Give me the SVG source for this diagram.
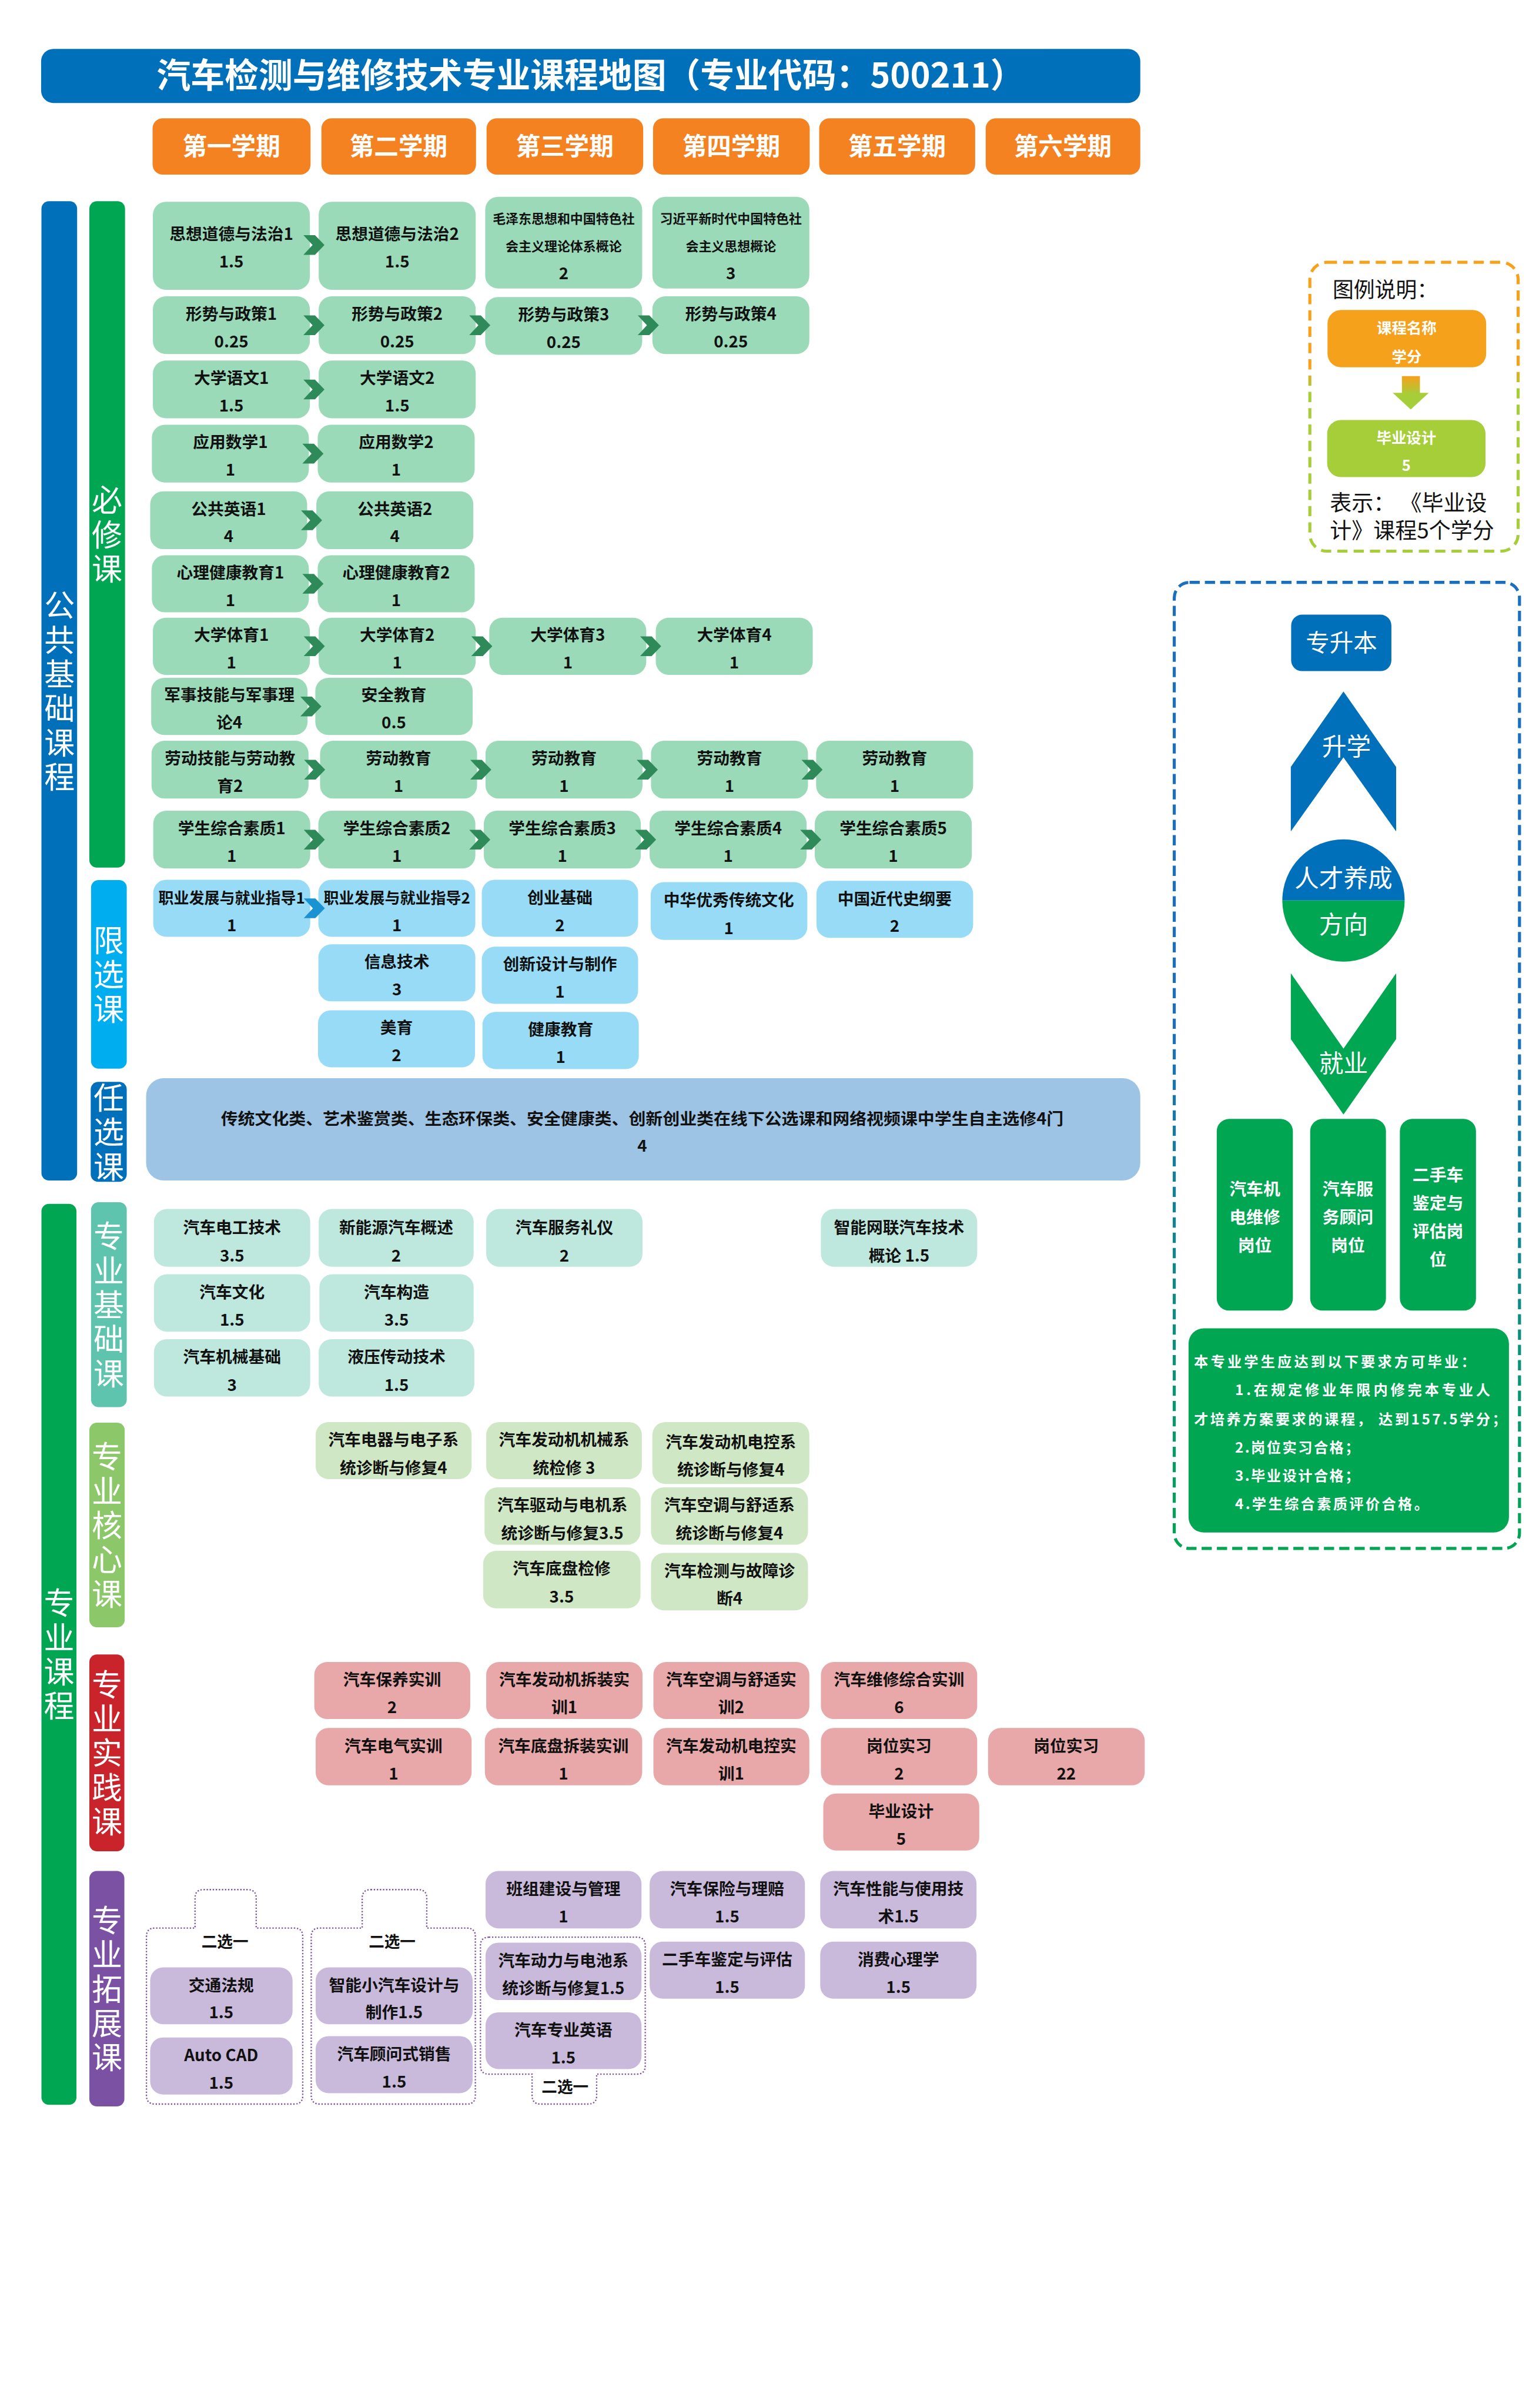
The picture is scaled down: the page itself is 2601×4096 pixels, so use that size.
<svg xmlns="http://www.w3.org/2000/svg" xmlns:xlink="http://www.w3.org/1999/xlink" width="2601" height="4096" viewBox="0 0 2601 4096">
<style>
.t{font-family:"Noto Sans CJK SC","Noto Sans",sans-serif;font-weight:700;font-size:48px;text-anchor:middle;fill:#111}
.s{font-size:38px}
.v{font-family:"Noto Sans CJK SC","Noto Sans",sans-serif;font-weight:400;font-size:90px;fill:#fff;text-anchor:middle;writing-mode:vertical-rl;letter-spacing:11px}
.w{fill:#fff}
.r{font-family:"Noto Sans CJK SC","Noto Sans",sans-serif;font-weight:400;font-size:72px;fill:#fff;text-anchor:middle}
.q{font-family:"Noto Sans CJK SC","Noto Sans",sans-serif;font-weight:700;font-size:42px;fill:#fff}
.bx{fill:#9ADAB9}.cy{fill:#98DBF6}.pb{fill:#BEE7DE}.pc{fill:#CFE7C4}.pp{fill:#E8A7A8}.pe{fill:#C9B9DA}
.ch{fill:#2E8A58}.chb{fill:#1B93D2}
.dot{fill:none;stroke:#7B52A3;stroke-width:4;stroke-dasharray:4 5}
</style>
<defs>
<path id="chev" d="M-31,-29 H3 L31,0 L3,29 H-31 L-4,0 Z"/>
<linearGradient id="gLeg" x1="0" y1="0" x2="0" y2="1">
<stop offset="0" stop-color="#F7A11B"/><stop offset="0.36" stop-color="#F7A11B"/><stop offset="0.44" stop-color="#A6CE39"/><stop offset="1" stop-color="#A6CE39"/>
</linearGradient>
<linearGradient id="gArr" x1="0" y1="0" x2="0" y2="1">
<stop offset="0" stop-color="#F7A11B"/><stop offset="0.55" stop-color="#A6CE39"/><stop offset="1" stop-color="#A6CE39"/>
</linearGradient>
<linearGradient id="gPan" x1="0" y1="0" x2="0" y2="1">
<stop offset="0" stop-color="#1A6FBF"/><stop offset="0.45" stop-color="#1A6FBF"/><stop offset="1" stop-color="#00A651"/>
</linearGradient>
</defs>
<rect x="0" y="0" width="2601" height="4096" fill="#fff"/>
<g transform="scale(0.578)">

<g id="title">
<rect x="121" y="144" width="3235" height="159" rx="36" fill="#0070BA"/>
<text class="t w" x="1738" y="258" style="font-size:100px">汽车检测与维修技术专业课程地图（专业代码：500211）</text>
</g>

<g id="semesters">
<g id="sem1"><rect x="449" y="348" width="465" height="166" rx="30" fill="#F58220"/><text class="t w" x="681" y="456" style="font-size:72px">第一学期</text></g>
<g id="sem2"><rect x="946" y="348" width="455" height="166" rx="30" fill="#F58220"/><text class="t w" x="1173" y="456" style="font-size:72px">第二学期</text></g>
<g id="sem3"><rect x="1432" y="348" width="461" height="166" rx="30" fill="#F58220"/><text class="t w" x="1662" y="456" style="font-size:72px">第三学期</text></g>
<g id="sem4"><rect x="1922" y="348" width="461" height="166" rx="30" fill="#F58220"/><text class="t w" x="2152" y="456" style="font-size:72px">第四学期</text></g>
<g id="sem5"><rect x="2411" y="348" width="459" height="166" rx="30" fill="#F58220"/><text class="t w" x="2640" y="456" style="font-size:72px">第五学期</text></g>
<g id="sem6"><rect x="2901" y="348" width="455" height="166" rx="30" fill="#F58220"/><text class="t w" x="3128" y="456" style="font-size:72px">第六学期</text></g>
</g>

<g id="cat-public">
<rect x="122" y="592" width="105" height="2882" rx="22" fill="#0070BA"/>
<text class="v" x="175" y="2039">公共基础课程</text>
</g>
<g id="cat-required">
<rect x="263" y="592" width="105" height="1961" rx="22" fill="#00A651"/>
<text class="v" x="315" y="1578">必修课</text>
</g>
<g id="cat-limited">
<rect x="268" y="2590" width="105" height="555" rx="22" fill="#00AEEF"/>
<text class="v" x="320" y="2873">限选课</text>
</g>
<g id="cat-free">
<rect x="267" y="3184" width="106" height="294" rx="22" fill="#0070BA"/>
<text class="v" x="320" y="3337">任选课</text>
</g>

<g id="r1c1"><rect class="bx" x="450" y="594" width="462" height="259" rx="38"/><text class="t" x="681" y="706">思想道德与法治1</text><text class="t" x="681" y="787">1.5</text></g>
<g id="r1c2"><rect class="bx" x="938" y="594" width="462" height="259" rx="38"/><text class="t" x="1169" y="706">思想道德与法治2</text><text class="t" x="1169" y="787">1.5</text></g>
<g id="r1c3"><rect class="bx" x="1428" y="579" width="462" height="270" rx="38"/><text class="t s" x="1659" y="657">毛泽东思想和中国特色社</text><text class="t s" x="1659" y="738">会主义理论体系概论</text><text class="t" x="1659" y="821">2</text></g>
<g id="r1c4"><rect class="bx" x="1920" y="579" width="462" height="270" rx="38"/><text class="t s" x="2151" y="657">习近平新时代中国特色社</text><text class="t s" x="2151" y="738">会主义思想概论</text><text class="t" x="2151" y="821">3</text></g>

<g id="r2c1"><rect class="bx" x="450" y="872" width="462" height="170" rx="38"/><text class="t" x="681" y="941">形势与政策1</text><text class="t" x="681" y="1022">0.25</text></g>
<g id="r2c2"><rect class="bx" x="938" y="872" width="462" height="170" rx="38"/><text class="t" x="1169" y="941">形势与政策2</text><text class="t" x="1169" y="1022">0.25</text></g>
<g id="r2c3"><rect class="bx" x="1428" y="874" width="462" height="170" rx="38"/><text class="t" x="1659" y="943">形势与政策3</text><text class="t" x="1659" y="1024">0.25</text></g>
<g id="r2c4"><rect class="bx" x="1920" y="872" width="462" height="170" rx="38"/><text class="t" x="2151" y="941">形势与政策4</text><text class="t" x="2151" y="1022">0.25</text></g>

<g id="r3c1"><rect class="bx" x="450" y="1061" width="462" height="170" rx="38"/><text class="t" x="681" y="1130">大学语文1</text><text class="t" x="681" y="1211">1.5</text></g>
<g id="r3c2"><rect class="bx" x="938" y="1061" width="462" height="170" rx="38"/><text class="t" x="1169" y="1130">大学语文2</text><text class="t" x="1169" y="1211">1.5</text></g>

<g id="r4c1"><rect class="bx" x="447" y="1250" width="462" height="170" rx="38"/><text class="t" x="678" y="1319">应用数学1</text><text class="t" x="678" y="1400">1</text></g>
<g id="r4c2"><rect class="bx" x="935" y="1250" width="462" height="170" rx="38"/><text class="t" x="1166" y="1319">应用数学2</text><text class="t" x="1166" y="1400">1</text></g>

<g id="r5c1"><rect class="bx" x="442" y="1446" width="462" height="170" rx="38"/><text class="t" x="673" y="1515">公共英语1</text><text class="t" x="673" y="1596">4</text></g>
<g id="r5c2"><rect class="bx" x="931" y="1446" width="462" height="170" rx="38"/><text class="t" x="1162" y="1515">公共英语2</text><text class="t" x="1162" y="1596">4</text></g>

<g id="r6c1"><rect class="bx" x="447" y="1634" width="462" height="168" rx="38"/><text class="t" x="678" y="1702">心理健康教育1</text><text class="t" x="678" y="1783">1</text></g>
<g id="r6c2"><rect class="bx" x="935" y="1634" width="462" height="168" rx="38"/><text class="t" x="1166" y="1702">心理健康教育2</text><text class="t" x="1166" y="1783">1</text></g>

<g id="r7c1"><rect class="bx" x="450" y="1818" width="462" height="168" rx="38"/><text class="t" x="681" y="1886">大学体育1</text><text class="t" x="681" y="1967">1</text></g>
<g id="r7c2"><rect class="bx" x="938" y="1818" width="462" height="168" rx="38"/><text class="t" x="1169" y="1886">大学体育2</text><text class="t" x="1169" y="1967">1</text></g>
<g id="r7c3"><rect class="bx" x="1440" y="1818" width="462" height="168" rx="38"/><text class="t" x="1671" y="1886">大学体育3</text><text class="t" x="1671" y="1967">1</text></g>
<g id="r7c4"><rect class="bx" x="1930" y="1818" width="462" height="168" rx="38"/><text class="t" x="2161" y="1886">大学体育4</text><text class="t" x="2161" y="1967">1</text></g>

<g id="r8c1"><rect class="bx" x="445" y="1995" width="460" height="168" rx="38"/><text class="t" x="675" y="2063">军事技能与军事理</text><text class="t" x="675" y="2144">论4</text></g>
<g id="r8c2"><rect class="bx" x="928" y="1995" width="463" height="168" rx="38"/><text class="t" x="1159" y="2063">安全教育</text><text class="t" x="1159" y="2144">0.5</text></g>

<g id="r9c1"><rect class="bx" x="446" y="2180" width="462" height="170" rx="38"/><text class="t" x="677" y="2249">劳动技能与劳动教</text><text class="t" x="677" y="2330">育2</text></g>
<g id="r9c2"><rect class="bx" x="942" y="2180" width="462" height="170" rx="38"/><text class="t" x="1173" y="2249">劳动教育</text><text class="t" x="1173" y="2330">1</text></g>
<g id="r9c3"><rect class="bx" x="1429" y="2180" width="462" height="170" rx="38"/><text class="t" x="1660" y="2249">劳动教育</text><text class="t" x="1660" y="2330">1</text></g>
<g id="r9c4"><rect class="bx" x="1916" y="2180" width="462" height="170" rx="38"/><text class="t" x="2147" y="2249">劳动教育</text><text class="t" x="2147" y="2330">1</text></g>
<g id="r9c5"><rect class="bx" x="2402" y="2180" width="462" height="170" rx="38"/><text class="t" x="2633" y="2249">劳动教育</text><text class="t" x="2633" y="2330">1</text></g>

<g id="r10c1"><rect class="bx" x="451" y="2386" width="462" height="170" rx="38"/><text class="t" x="682" y="2455">学生综合素质1</text><text class="t" x="682" y="2536">1</text></g>
<g id="r10c2"><rect class="bx" x="937" y="2386" width="462" height="170" rx="38"/><text class="t" x="1168" y="2455">学生综合素质2</text><text class="t" x="1168" y="2536">1</text></g>
<g id="r10c3"><rect class="bx" x="1424" y="2386" width="462" height="170" rx="38"/><text class="t" x="1655" y="2455">学生综合素质3</text><text class="t" x="1655" y="2536">1</text></g>
<g id="r10c4"><rect class="bx" x="1912" y="2386" width="462" height="170" rx="38"/><text class="t" x="2143" y="2455">学生综合素质4</text><text class="t" x="2143" y="2536">1</text></g>
<g id="r10c5"><rect class="bx" x="2398" y="2386" width="462" height="170" rx="38"/><text class="t" x="2629" y="2455">学生综合素质5</text><text class="t" x="2629" y="2536">1</text></g>

<g id="r11c1"><rect class="cy" x="451" y="2589" width="462" height="168" rx="38"/><text class="t" x="682" y="2659" style="font-size:45px">职业发展与就业指导1</text><text class="t" x="682" y="2740">1</text></g>
<g id="r11c2"><rect class="cy" x="937" y="2589" width="462" height="168" rx="38"/><text class="t" x="1168" y="2659" style="font-size:45px">职业发展与就业指导2</text><text class="t" x="1168" y="2740">1</text></g>
<g id="r11c3"><rect class="cy" x="1418" y="2589" width="460" height="168" rx="38"/><text class="t" x="1648" y="2659">创业基础</text><text class="t" x="1648" y="2740">2</text></g>
<g id="r11c4"><rect class="cy" x="1915" y="2596" width="461" height="170" rx="38"/><text class="t" x="2145" y="2666">中华优秀传统文化</text><text class="t" x="2145" y="2749">1</text></g>
<g id="r11c5"><rect class="cy" x="2403" y="2592" width="461" height="168" rx="38"/><text class="t" x="2633" y="2662">中国近代史纲要</text><text class="t" x="2633" y="2743">2</text></g>
<g id="r12c2"><rect class="cy" x="937" y="2779" width="462" height="168" rx="38"/><text class="t" x="1168" y="2848">信息技术</text><text class="t" x="1168" y="2929">3</text></g>
<g id="r12c3"><rect class="cy" x="1418" y="2786" width="460" height="168" rx="38"/><text class="t" x="1648" y="2855">创新设计与制作</text><text class="t" x="1648" y="2936">1</text></g>
<g id="r13c2"><rect class="cy" x="936" y="2973" width="462" height="168" rx="38"/><text class="t" x="1167" y="3042">美育</text><text class="t" x="1167" y="3123">2</text></g>
<g id="r13c3"><rect class="cy" x="1420" y="2978" width="460" height="168" rx="38"/><text class="t" x="1650" y="3047">健康教育</text><text class="t" x="1650" y="3128">1</text></g>

<g id="free-elective"><rect x="430" y="3173" width="2926" height="301" rx="52" fill="#9DC4E4"/><text class="t" x="1890" y="3309" textLength="2480" lengthAdjust="spacingAndGlyphs">传统文化类、艺术鉴赏类、生态环保类、安全健康类、创新创业类在线下公选课和网络视频课中学生自主选修4门</text><text class="t" x="1890" y="3390">4</text></g>

<g id="cat-major">
<rect x="122" y="3543" width="103" height="2651" rx="22" fill="#00A651"/>
<text class="v" x="174" y="4874">专业课程</text>
</g>
<g id="cat-basic">
<rect x="268" y="3538" width="105" height="603" rx="22" fill="#5EC4AE"/>
<text class="v" x="320" y="3845">专业基础课</text>
</g>
<g id="cat-core">
<rect x="263" y="4187" width="104" height="602" rx="22" fill="#8CC76A"/>
<text class="v" x="315" y="4494">专业核心课</text>
</g>
<g id="cat-practice">
<rect x="263" y="4869" width="103" height="579" rx="22" fill="#C9232B"/>
<text class="v" x="315" y="5164">专业实践课</text>
</g>
<g id="cat-ext">
<rect x="263" y="5506" width="103" height="693" rx="22" fill="#7B52A3"/>
<text class="v" x="315" y="5858">专业拓展课</text>
</g>

<g id="b1"><rect class="pb" x="453" y="3558" width="460" height="170" rx="38"/><text class="t" x="683" y="3629">汽车电工技术</text><text class="t" x="683" y="3712">3.5</text></g>
<g id="b2"><rect class="pb" x="938" y="3558" width="456" height="170" rx="38"/><text class="t" x="1166" y="3629">新能源汽车概述</text><text class="t" x="1166" y="3712">2</text></g>
<g id="b3"><rect class="pb" x="1431" y="3558" width="460" height="170" rx="38"/><text class="t" x="1661" y="3629">汽车服务礼仪</text><text class="t" x="1661" y="3712">2</text></g>
<g id="b4"><rect class="pb" x="2416" y="3558" width="460" height="170" rx="38"/><text class="t" x="2646" y="3629">智能网联汽车技术</text><text class="t" x="2646" y="3712">概论 1.5</text></g>
<g id="b5"><rect class="pb" x="453" y="3750" width="460" height="169" rx="38"/><text class="t" x="683" y="3820">汽车文化</text><text class="t" x="683" y="3902">1.5</text></g>
<g id="b6"><rect class="pb" x="940" y="3750" width="454" height="169" rx="38"/><text class="t" x="1167" y="3820">汽车构造</text><text class="t" x="1167" y="3902">3.5</text></g>
<g id="b7"><rect class="pb" x="453" y="3941" width="460" height="169" rx="38"/><text class="t" x="683" y="4011">汽车机械基础</text><text class="t" x="683" y="4093">3</text></g>
<g id="b8"><rect class="pb" x="938" y="3941" width="458" height="169" rx="38"/><text class="t" x="1167" y="4011">液压传动技术</text><text class="t" x="1167" y="4093">1.5</text></g>

<g id="c1"><rect class="pc" x="929" y="4185" width="459" height="168" rx="38"/><text class="t" x="1158" y="4255">汽车电器与电子系</text><text class="t" x="1158" y="4338">统诊断与修复4</text></g>
<g id="c2"><rect class="pc" x="1431" y="4185" width="458" height="168" rx="38"/><text class="t" x="1660" y="4255">汽车发动机机械系</text><text class="t" x="1660" y="4338">统检修 3</text></g>
<g id="c3"><rect class="pc" x="1920" y="4185" width="462" height="182" rx="38"/><text class="t" x="2151" y="4262">汽车发动机电控系</text><text class="t" x="2151" y="4342">统诊断与修复4</text></g>
<g id="c4"><rect class="pc" x="1426" y="4377" width="459" height="169" rx="38"/><text class="t" x="1655" y="4447">汽车驱动与电机系</text><text class="t" x="1655" y="4529">统诊断与修复3.5</text></g>
<g id="c5"><rect class="pc" x="1916" y="4377" width="462" height="169" rx="38"/><text class="t" x="2147" y="4447">汽车空调与舒适系</text><text class="t" x="2147" y="4529">统诊断与修复4</text></g>
<g id="c6"><rect class="pc" x="1422" y="4564" width="463" height="169" rx="38"/><text class="t" x="1653" y="4634">汽车底盘检修</text><text class="t" x="1653" y="4716">3.5</text></g>
<g id="c7"><rect class="pc" x="1916" y="4570" width="462" height="169" rx="38"/><text class="t" x="2147" y="4640">汽车检测与故障诊</text><text class="t" x="2147" y="4722">断4</text></g>

<g id="p1"><rect class="pp" x="925" y="4891" width="459" height="168" rx="38"/><text class="t" x="1154" y="4961">汽车保养实训</text><text class="t" x="1154" y="5042">2</text></g>
<g id="p2"><rect class="pp" x="1431" y="4891" width="460" height="168" rx="38"/><text class="t" x="1661" y="4961">汽车发动机拆装实</text><text class="t" x="1661" y="5042">训1</text></g>
<g id="p3"><rect class="pp" x="1923" y="4891" width="459" height="168" rx="38"/><text class="t" x="2152" y="4961">汽车空调与舒适实</text><text class="t" x="2152" y="5042">训2</text></g>
<g id="p4"><rect class="pp" x="2416" y="4891" width="460" height="168" rx="38"/><text class="t" x="2646" y="4961">汽车维修综合实训</text><text class="t" x="2646" y="5042">6</text></g>
<g id="p5"><rect class="pp" x="929" y="5085" width="459" height="169" rx="38"/><text class="t" x="1158" y="5155">汽车电气实训</text><text class="t" x="1158" y="5237">1</text></g>
<g id="p6"><rect class="pp" x="1427" y="5085" width="463" height="169" rx="38"/><text class="t" x="1658" y="5155">汽车底盘拆装实训</text><text class="t" x="1658" y="5237">1</text></g>
<g id="p7"><rect class="pp" x="1923" y="5085" width="459" height="169" rx="38"/><text class="t" x="2152" y="5155">汽车发动机电控实</text><text class="t" x="2152" y="5237">训1</text></g>
<g id="p8"><rect class="pp" x="2416" y="5085" width="460" height="169" rx="38"/><text class="t" x="2646" y="5155">岗位实习</text><text class="t" x="2646" y="5237">2</text></g>
<g id="p9"><rect class="pp" x="2908" y="5085" width="461" height="169" rx="38"/><text class="t" x="3138" y="5155">岗位实习</text><text class="t" x="3138" y="5237">22</text></g>
<g id="p10"><rect class="pp" x="2423" y="5278" width="459" height="168" rx="38"/><text class="t" x="2652" y="5348">毕业设计</text><text class="t" x="2652" y="5429">5</text></g>

<g id="grp1"><path class="dot" d="M599,5561 H729 Q754,5561 754,5586 V5674 H866 Q891,5674 891,5699 V6167 Q891,6192 866,6192 H456 Q431,6192 431,6167 V5699 Q431,5674 456,5674 H574 V5586 Q574,5561 599,5561 Z"/><text class="t" x="662" y="5730" style="font-size:46px">二选一</text></g>
<g id="grp2"><path class="dot" d="M1091,5561 H1231 Q1256,5561 1256,5586 V5674 H1374 Q1399,5674 1399,5699 V6167 Q1399,6192 1374,6192 H941 Q916,6192 916,6167 V5699 Q916,5674 941,5674 H1066 V5586 Q1066,5561 1091,5561 Z"/><text class="t" x="1154" y="5730" style="font-size:46px">二选一</text></g>
<g id="grp3"><path class="dot" d="M1439,5701 H1874 Q1899,5701 1899,5726 V6079 Q1899,6104 1874,6104 H1756 V6167 Q1756,6192 1731,6192 H1591 Q1566,6192 1566,6167 V6104 H1439 Q1414,6104 1414,6079 V5726 Q1414,5701 1439,5701 Z"/><text class="t" x="1663" y="6157" style="font-size:46px">二选一</text></g>

<g id="e1"><rect class="pe" x="1429" y="5506" width="459" height="169" rx="38"/><text class="t" x="1658" y="5576">班组建设与管理</text><text class="t" x="1658" y="5658">1</text></g>
<g id="e2"><rect class="pe" x="1912" y="5506" width="457" height="169" rx="38"/><text class="t" x="2140" y="5576">汽车保险与理赔</text><text class="t" x="2140" y="5658">1.5</text></g>
<g id="e3"><rect class="pe" x="2414" y="5506" width="460" height="169" rx="38"/><text class="t" x="2644" y="5576">汽车性能与使用技</text><text class="t" x="2644" y="5658">术1.5</text></g>
<g id="e4"><rect class="pe" x="1429" y="5717" width="459" height="169" rx="38"/><text class="t" x="1658" y="5787">汽车动力与电池系</text><text class="t" x="1658" y="5869">统诊断与修复1.5</text></g>
<g id="e5"><rect class="pe" x="1912" y="5714" width="457" height="168" rx="38"/><text class="t" x="2140" y="5784">二手车鉴定与评估</text><text class="t" x="2140" y="5865">1.5</text></g>
<g id="e6"><rect class="pe" x="2414" y="5714" width="460" height="168" rx="38"/><text class="t" x="2644" y="5784">消费心理学</text><text class="t" x="2644" y="5865">1.5</text></g>
<g id="e7"><rect class="pe" x="1429" y="5922" width="459" height="167" rx="38"/><text class="t" x="1658" y="5991">汽车专业英语</text><text class="t" x="1658" y="6072">1.5</text></g>
<g id="e8"><rect class="pe" x="442" y="5790" width="419" height="167" rx="38"/><text class="t" x="651" y="5859">交通法规</text><text class="t" x="651" y="5940">1.5</text></g>
<g id="e9"><rect class="pe" x="442" y="5996" width="419" height="168" rx="38"/><text class="t" x="651" y="6066">Auto CAD</text><text class="t" x="651" y="6147">1.5</text></g>
<g id="e10"><rect class="pe" x="929" y="5790" width="462" height="167" rx="38"/><text class="t" x="1160" y="5859">智能小汽车设计与</text><text class="t" x="1160" y="5940">制作1.5</text></g>
<g id="e11"><rect class="pe" x="929" y="5992" width="462" height="168" rx="38"/><text class="t" x="1160" y="6062">汽车顾问式销售</text><text class="t" x="1160" y="6143">1.5</text></g>

<g id="connectors">
<use xlink:href="#chev" class="ch" x="924" y="721"/>
<use xlink:href="#chev" class="ch" x="924" y="957"/>
<use xlink:href="#chev" class="ch" x="1412" y="957"/>
<use xlink:href="#chev" class="ch" x="1908" y="957"/>
<use xlink:href="#chev" class="ch" x="924" y="1146"/>
<use xlink:href="#chev" class="ch" x="921" y="1335"/>
<use xlink:href="#chev" class="ch" x="917" y="1531"/>
<use xlink:href="#chev" class="ch" x="921" y="1718"/>
<use xlink:href="#chev" class="ch" x="925" y="1902"/>
<use xlink:href="#chev" class="ch" x="1418" y="1902"/>
<use xlink:href="#chev" class="ch" x="1915" y="1902"/>
<use xlink:href="#chev" class="ch" x="915" y="2079"/>
<use xlink:href="#chev" class="ch" x="926" y="2265"/>
<use xlink:href="#chev" class="ch" x="1415" y="2265"/>
<use xlink:href="#chev" class="ch" x="1905" y="2265"/>
<use xlink:href="#chev" class="ch" x="2390" y="2265"/>
<use xlink:href="#chev" class="ch" x="925" y="2471"/>
<use xlink:href="#chev" class="ch" x="1412" y="2471"/>
<use xlink:href="#chev" class="ch" x="1900" y="2471"/>
<use xlink:href="#chev" class="ch" x="2386" y="2471"/>
<use xlink:href="#chev" class="chb" x="925" y="2673"/>
</g>

<g id="legend">
<rect x="3855" y="772" width="613" height="850" rx="50" fill="none" stroke="url(#gLeg)" stroke-width="9" stroke-dasharray="30 18"/>
<text x="3922" y="875" style="font-family:'Noto Sans CJK SC',sans-serif;font-size:62px;fill:#111">图例说明：</text>
<g id="leg-course"><rect x="3907" y="912" width="467" height="169" rx="40" fill="#F6A11C"/><text class="t w" x="4140" y="981" style="font-size:44px">课程名称</text><text class="t w" x="4140" y="1065" style="font-size:44px">学分</text></g>
<path d="M4126,1107 H4179 V1156 H4205 L4152,1205 L4099,1156 H4126 Z" fill="url(#gArr)"/>
<g id="leg-design"><rect x="3906" y="1236" width="466" height="168" rx="40" fill="#A6CE39"/><text class="t w" x="4139" y="1304" style="font-size:44px">毕业设计</text><text class="t w" x="4139" y="1386" style="font-size:44px">5</text></g>
<text style="font-family:'Noto Sans CJK SC',sans-serif;font-size:64px;fill:#111"><tspan x="3914" y="1503">表示： 《毕业设</tspan><tspan x="3914" y="1584">计》课程5个学分</tspan></text>
</g>

<g id="panel">
<rect x="3456" y="1714" width="1016" height="2843" rx="45" fill="none" stroke="url(#gPan)" stroke-width="9" stroke-dasharray="30 15"/>
<g id="upgrade"><rect x="3800" y="1809" width="295" height="166" rx="32" fill="#0070BA"/><text class="r" x="3948" y="1917" style="font-size:70px">专升本</text></g>
<g id="up-arrow"><path d="M3954,2035 L4109,2257 V2447 L3954,2229 L3799,2447 V2257 Z" fill="#0070BA"/><text class="r" x="3963" y="2224">升学</text></g>
<g id="direction"><path d="M3774,2650 A180,180 0 0 1 4134,2650 Z" fill="#0070BA"/><path d="M3774,2650 A180,180 0 0 0 4134,2650 Z" fill="#00A651"/><text class="r" x="3954" y="2610">人才养成</text><text class="r" x="3954" y="2748">方向</text></g>
<g id="down-arrow"><path d="M3799,2864 L3954,3086 L4109,2864 V3058 L3954,3280 L3799,3058 Z" fill="#00A651"/><text class="r" x="3954" y="3156">就业</text></g>
<g id="job1"><rect x="3581" y="3293" width="224" height="564" rx="36" fill="#00A651"/><text class="t w" style="font-size:50px"><tspan x="3693" y="3518">汽车机</tspan><tspan x="3693" y="3601">电维修</tspan><tspan x="3693" y="3684">岗位</tspan></text></g>
<g id="job2"><rect x="3856" y="3293" width="223" height="564" rx="36" fill="#00A651"/><text class="t w" style="font-size:50px"><tspan x="3967" y="3518">汽车服</tspan><tspan x="3967" y="3601">务顾问</tspan><tspan x="3967" y="3684">岗位</tspan></text></g>
<g id="job3"><rect x="4120" y="3293" width="224" height="564" rx="36" fill="#00A651"/><text class="t w" style="font-size:50px"><tspan x="4232" y="3476">二手车</tspan><tspan x="4232" y="3559">鉴定与</tspan><tspan x="4232" y="3642">评估岗</tspan><tspan x="4232" y="3725">位</tspan></text></g>
<g id="requirements"><rect x="3498" y="3909" width="943" height="601" rx="45" fill="#00A651"/>
<text class="q" x="3514" y="4022" textLength="828" lengthAdjust="spacing">本专业学生应达到以下要求方可毕业：</text>
<text class="q" x="3635" y="4105" textLength="751" lengthAdjust="spacing">1.在规定修业年限内修完本专业人</text>
<text class="q" x="3514" y="4192" textLength="920" lengthAdjust="spacing">才培养方案要求的课程， 达到157.5学分；</text>
<text class="q" x="3635" y="4275" textLength="366" lengthAdjust="spacing">2.岗位实习合格；</text>
<text class="q" x="3635" y="4358" textLength="366" lengthAdjust="spacing">3.毕业设计合格；</text>
<text class="q" x="3635" y="4441" textLength="569" lengthAdjust="spacing">4.学生综合素质评价合格。</text>
</g>
</g>

</g>
</svg>
